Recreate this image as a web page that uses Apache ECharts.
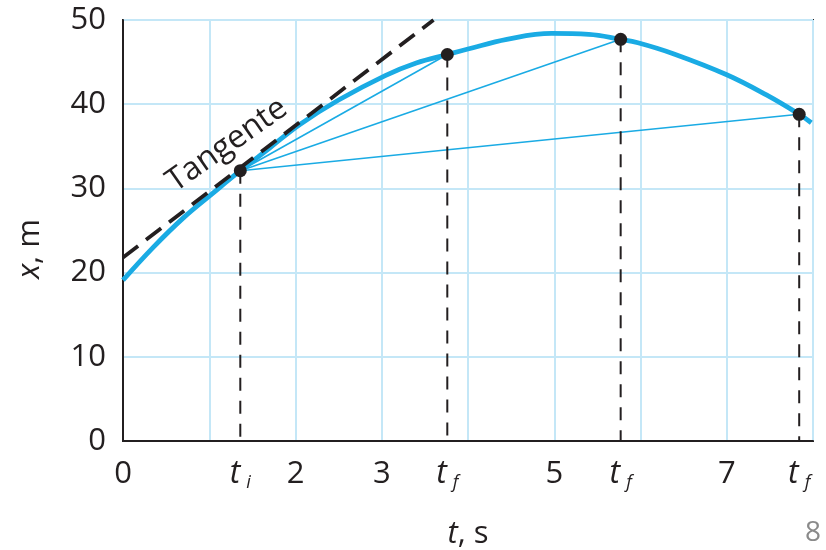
<!DOCTYPE html>
<html>
<head>
<meta charset="utf-8">
<script src="https://cdn.jsdelivr.net/npm/echarts@6/dist/echarts.min.js"></script>
<style>
  html, body { margin: 0; padding: 0; background: #fff; }
  #chart { width: 826px; height: 550px; }
</style>
</head>
<body>
<div id="chart"></div>
<script>
// Position x (m) against time t (s)
const curveT = [0, 0.35, 0.7, 1.05, 1.36, 1.7, 2.05, 2.5, 3.04, 3.4, 3.76, 4.0, 4.45, 4.97, 5.4, 5.77, 5.97, 6.38, 7.0, 7.46, 7.84, 7.98];
const curveX = [19.1, 23.0, 26.5, 29.5, 32.1, 34.8, 37.6, 40.5, 43.4, 44.9, 45.9, 46.55, 47.7, 48.4, 48.3, 47.7, 47.3, 46.0, 43.5, 41.1, 38.8, 37.8];

// Marked instants: t_i followed by three t_f
const pointT = [1.36, 3.76, 5.77, 7.84];
const pointX = [32.1, 45.9, 47.7, 38.8];

// Tangent at t_i
const tangentT = [0, 3.6];
const tangentX = [21.8, 50];

// Time-axis labels
const tickValues = [0, pointT[0], 2, 3, pointT[1], 5, pointT[2], 7, pointT[3]];
const tickTexts = ['0', 't|i', '2', '3', 't|f', '5', 't|f', '7', 't|f'];

const BLUE = '#1aabe4';
const INK = '#231f20';
const FONT = 'Open Sans';
const FS = 31;

const pairs = (xs, ys) => xs.map((v, i) => [v, ys[i]]);

const series = [];

// chords from t_i to each t_f
for (let k = 1; k < pointT.length; k++) {
  series.push({
    type: 'line', silent: true, showSymbol: false, z: 2,
    data: [[pointT[0], pointX[0]], [pointT[k], pointX[k]]],
    lineStyle: { color: BLUE, width: 1.6 }
  });
}

// position curve
series.push({
  type: 'line', smooth: 0.4, showSymbol: false, silent: true, z: 3,
  data: pairs(curveT, curveX),
  lineStyle: { color: BLUE, width: 4.8 }
});

// tangent line
series.push({
  type: 'line', showSymbol: false, silent: true, z: 4,
  data: pairs(tangentT, tangentX),
  lineStyle: { color: INK, width: 3.8, type: [19, 10] }
});

// drop lines to the time axis
pointT.forEach((t, i) => {
  series.push({
    type: 'line', showSymbol: false, silent: true, z: 4,
    data: [[t, pointX[i]], [t, 0]],
    lineStyle: { color: INK, width: 2, type: [13, 10] }
  });
});

// marked points
series.push({
  type: 'scatter', silent: true, z: 6,
  symbolSize: 13,
  itemStyle: { color: INK, opacity: 1 },
  data: pairs(pointT, pointX)
});

const chart = echarts.init(document.getElementById('chart'), null, { renderer: 'canvas' });

chart.setOption({
  animation: false,
  backgroundColor: '#fff',
  textStyle: { fontFamily: FONT },
  grid: {
    left: 123, right: 13, top: 20, bottom: 109,
    outerBoundsMode: 'none',
    show: true, borderColor: INK, borderWidth: 2, backgroundColor: 'transparent'
  },
  xAxis: {
    type: 'value', min: 0, max: 8, interval: 1,
    axisLine: { show: true, lineStyle: { color: INK, width: 2 } },
    axisTick: { show: false },
    splitLine: { show: true, lineStyle: { color: '#c4e7f7', width: 2 } },
    axisLabel: {
      customValues: tickValues,
      margin: 15,
      formatter: (v) => {
        const idx = tickValues.findIndex(x => Math.abs(x - v) < 1e-9);
        const s = idx >= 0 ? tickTexts[idx] : '';
        if (s.indexOf('|') >= 0) {
          const [a, b] = s.split('|');
          return '{t|' + a + '}{sub|' + b + '}';
        }
        return '{n|' + s + '}';
      },
      rich: {
        n: { fontFamily: FONT, fontSize: FS, color: INK, lineHeight: 36 },
        t: { fontFamily: FONT, fontSize: FS + 1, fontStyle: 'italic', color: INK, lineHeight: 36 },
        sub: { fontFamily: FONT, fontSize: 18, fontStyle: 'italic', color: INK, lineHeight: 15, padding: [0, 0, 0, 6], verticalAlign: 'bottom' }
      }
    },
    name: '{i|t}{r|, s}',
    nameLocation: 'middle',
    nameGap: 78,
    nameTextStyle: {
      rich: {
        i: { fontFamily: FONT, fontSize: FS, fontStyle: 'italic', color: INK },
        r: { fontFamily: FONT, fontSize: FS, color: INK }
      }
    }
  },
  yAxis: {
    type: 'value', min: 0, max: 50, interval: 10,
    axisLine: { show: true, lineStyle: { color: INK, width: 2 } },
    axisTick: { show: false },
    splitLine: { show: true, lineStyle: { color: '#c4e7f7', width: 2 } },
    axisLabel: { fontFamily: FONT, fontSize: FS, color: INK, margin: 17 }
  },
  graphic: [
    {
      type: 'text', x: 30, y: 249, rotation: Math.PI / 2, z: 10,
      style: {
        text: '{i|x}{r|, m}', align: 'center', verticalAlign: 'middle',
        rich: {
          i: { fontFamily: FONT, fontSize: FS, fontStyle: 'italic', fill: INK },
          r: { fontFamily: FONT, fontSize: FS, fill: INK }
        }
      }
    },
    {
      type: 'text', x: 227, y: 145, rotation: 35 * Math.PI / 180, z: 10,
      style: {
        text: 'Tangente', fontFamily: FONT, fontSize: 32, fill: INK,
        align: 'center', verticalAlign: 'middle'
      }
    },
    {
      type: 'text', x: 813, y: 533, z: 10,
      style: {
        text: '8', fontFamily: FONT, fontSize: 28, fill: '#8a8a8a',
        align: 'center', verticalAlign: 'middle'
      }
    }
  ],
  series: series
});
</script>
</body>
</html>
